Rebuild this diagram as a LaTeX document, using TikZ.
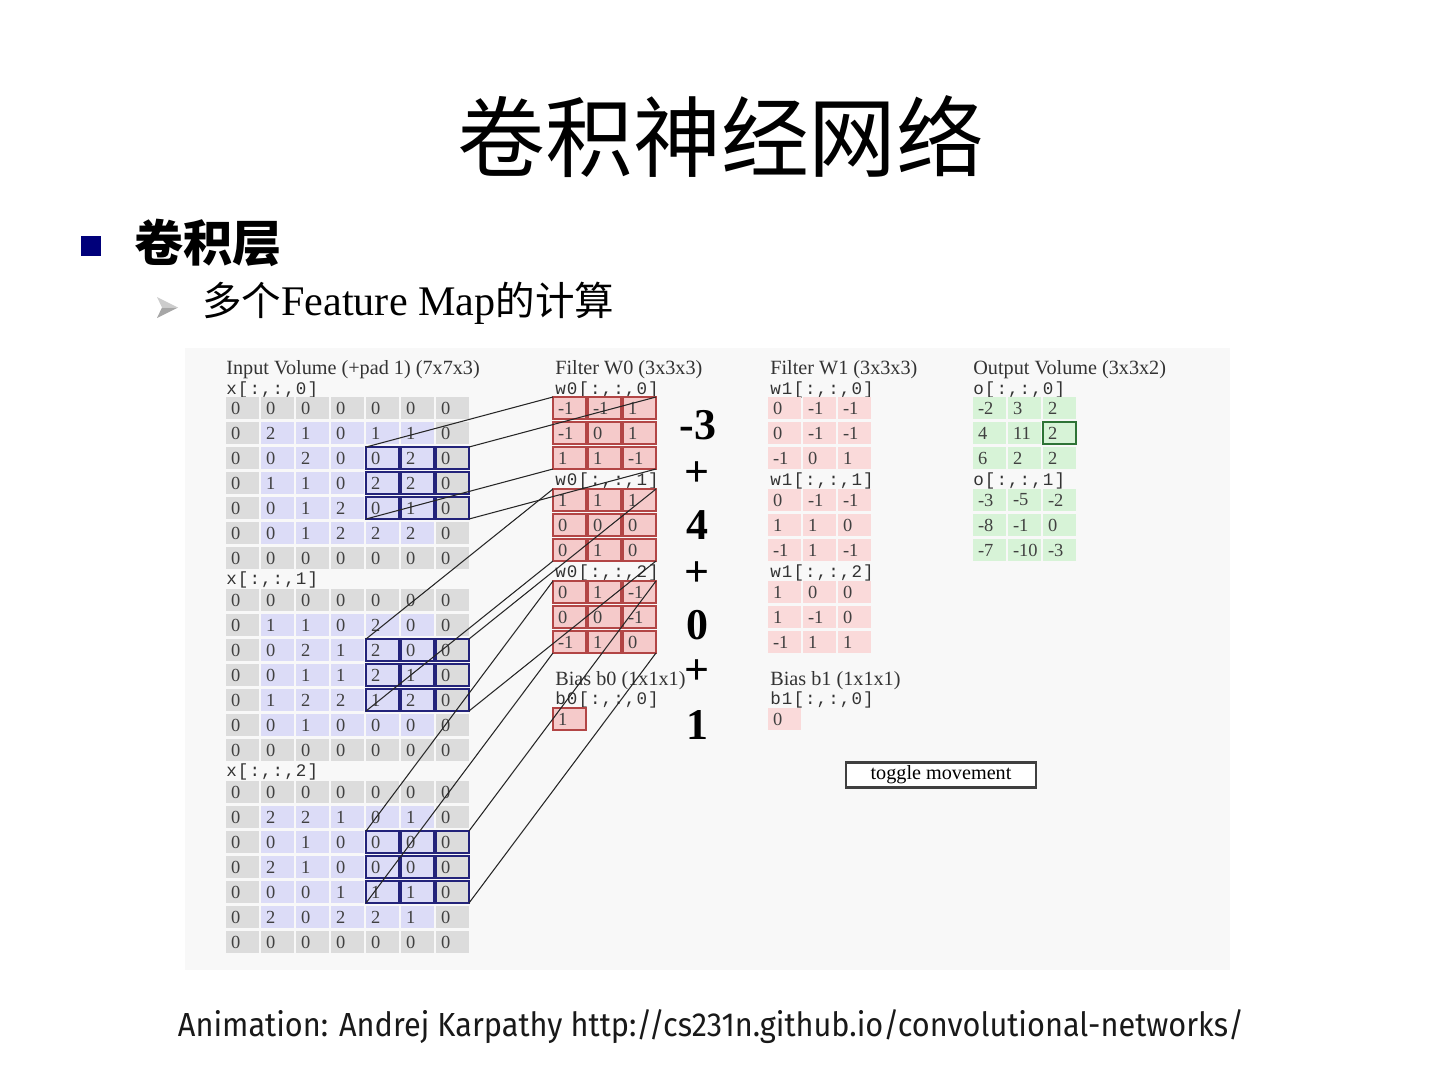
\documentclass[tikz,border=0pt]{standalone}
\usepackage{fontspec}
\setmainfont{Liberation Serif}
\setmonofont{Liberation Mono}
\newfontfamily\idxfont{Liberation Mono}[LetterSpace=6]
\newfontfamily\cjk{Noto Sans CJK SC}
\newfontfamily\creditfont{Fira Sans}[FakeStretch=0.92]
\usetikzlibrary{positioning}
\definecolor{panelgray}{HTML}{F8F8F8}
\definecolor{padgray}{HTML}{DCDCDC}
\definecolor{inblue}{HTML}{DCDCF7}
\definecolor{winblue}{HTML}{23237A}
\definecolor{fapink}{HTML}{F5CACA}
\definecolor{fared}{HTML}{B24545}
\definecolor{fbpink}{HTML}{FADADA}
\definecolor{outgreen}{HTML}{D7F3D7}
\definecolor{hlgreen}{HTML}{2E7336}
\definecolor{celltext}{HTML}{404040}
\definecolor{headtext}{HTML}{333333}
\definecolor{bulletblue}{HTML}{00007A}

% a block of cells, rows given as {a,b,c},{...}
\newcommand{\cellgrid}[5]{% name, left, top, style, rows
  \foreach \vals [count=\ri from 0] in {#5} {
    \foreach \v [count=\ci from 0] in \vals {
      \node[cell, #4] (#1-\ri-\ci) at ({#2+35*\ci},{#3+25*\ri}) {\mbox{\v}};
    }
  }
}
% padded input slice, window at rows 2-4, cols 4-6
\newcommand{\inputgrid}[3]{% name, top, rows
  \foreach \vals [count=\ri from 0] in {#3} {
    \foreach \v [count=\ci from 0] in \vals {
      \pgfmathtruncatemacro\inside{(\ri>0)*(\ri<6)*(\ci>0)*(\ci<6)}
      \pgfmathtruncatemacro\inwin{(\ri>1)*(\ri<5)*(\ci>3)}
      \ifnum\inside=1 \def\cellfill{inblue}\else\def\cellfill{padgray}\fi
      \ifnum\inwin=1 \def\celldraw{winblue}\else\def\celldraw{none}\fi
      \node[cell, fill=\cellfill, draw=\celldraw, line width=1.1pt] (#1-\ri-\ci) at ({226+35*\ci},{#2+25*\ri}) {\v};
    }
  }
}

\begin{document}
\begin{tikzpicture}[x=0.02cm, y=-0.02cm,
    cell/.style={anchor=north west, outer sep=0pt, inner ysep=0pt, inner xsep=0.1cm,
                 minimum height=0.44cm, text width=0.46cm, align=left,
                 font=\fontsize{10.5}{11}\selectfont, text=celltext},
    fa/.style={fill=fapink, draw=fared, line width=1.1pt},
    fb/.style={fill=fbpink},
    outcell/.style={fill=outgreen},
    head/.style={anchor=west, inner sep=0pt, font=\fontsize{11.5}{13}\selectfont, text=headtext},
    idx/.style={anchor=west, inner sep=0pt, font=\idxfont\fontsize{10}{11}\selectfont, text=headtext},
    sumtext/.style={font=\bfseries\fontsize{25}{28}\selectfont},
    link/.style={line width=0.6pt, black!85},
  ]
  \useasboundingbox (0,0) rectangle (1440,1080);
  \fill[panelgray] (185,348) rectangle (1230,970);

  % slide text
  \node[font=\cjk\fontsize{50}{56}\selectfont] (title) at (721,137) {卷积神经网络};
  \node[fill=bulletblue, minimum size=0.4cm, inner sep=0pt] (bullet) at (91,246) {};
  \node[anchor=west, font=\cjk\bfseries\fontsize{28}{32}\selectfont] (layer) at (128,243) {卷积层};
  \fill[gray!40] (157,297) -- (178,307.5) -- (162,307.5) -- cycle;
  \fill[gray!70] (162,307.5) -- (178,307.5) -- (157,318) -- cycle;
  \node[anchor=west, font=\fontsize{24}{28}\selectfont] (sub) at (196,303)
    {{\cjk\fontsize{22.5}{28}\selectfont 多个}Feature Map{\cjk\fontsize{22.5}{28}\selectfont 的计算}};

  % input volume
  \node[head] (inhead) at (226,370) {Input Volume (+pad 1) (7x7x3)};
  \node[idx] (x0lab) at (226,389.5) {x[:,:,0]};
  \inputgrid{in0}{397}{{0,0,0,0,0,0,0},{0,2,1,0,1,1,0},{0,0,2,0,0,2,0},{0,1,1,0,2,2,0},{0,0,1,2,0,1,0},{0,0,1,2,2,2,0},{0,0,0,0,0,0,0}}
  \node[idx] (x1lab) at (226,580) {x[:,:,1]};
  \inputgrid{in1}{589}{{0,0,0,0,0,0,0},{0,1,1,0,2,0,0},{0,0,2,1,2,0,0},{0,0,1,1,2,1,0},{0,1,2,2,1,2,0},{0,0,1,0,0,0,0},{0,0,0,0,0,0,0}}
  \node[idx] (x2lab) at (226,772) {x[:,:,2]};
  \inputgrid{in2}{781}{{0,0,0,0,0,0,0},{0,2,2,1,0,1,0},{0,0,1,0,0,0,0},{0,2,1,0,0,0,0},{0,0,0,1,1,1,0},{0,2,0,2,2,1,0},{0,0,0,0,0,0,0}}

  % filter w0
  \node[head] (fahead) at (555,370) {Filter W0 (3x3x3)};
  \node[idx] (fa0lab) at (555,389.5) {w0[:,:,0]};
  \cellgrid{fa0}{553}{397}{fa}{{-1,-1,1},{-1,0,1},{1,1,-1}}
  \node[idx] (fa1lab) at (555,481) {w0[:,:,1]};
  \cellgrid{fa1}{553}{489}{fa}{{1,1,1},{0,0,0},{0,1,0}}
  \node[idx] (fa2lab) at (555,573) {w0[:,:,2]};
  \cellgrid{fa2}{553}{581}{fa}{{0,1,-1},{0,0,-1},{-1,1,0}}
  \node[head] (bahead) at (555,681) {Bias b0 (1x1x1)};
  \node[idx] (balab) at (555,700) {b0[:,:,0]};
  \node[cell, fa] (ba) at (553,708) {1};

  % filter w1
  \node[head] (fbhead) at (770,370) {Filter W1 (3x3x3)};
  \node[idx] (fb0lab) at (770,389.5) {w1[:,:,0]};
  \cellgrid{fb0}{768}{397}{fb}{{0,-1,-1},{0,-1,-1},{-1,0,1}}
  \node[idx] (fb1lab) at (770,481) {w1[:,:,1]};
  \cellgrid{fb1}{768}{489}{fb}{{0,-1,-1},{1,1,0},{-1,1,-1}}
  \node[idx] (fb2lab) at (770,573) {w1[:,:,2]};
  \cellgrid{fb2}{768}{581}{fb}{{1,0,0},{1,-1,0},{-1,1,1}}
  \node[head] (bbhead) at (770,681) {Bias b1 (1x1x1)};
  \node[idx] (bblab) at (770,700) {b1[:,:,0]};
  \node[cell, fb] (bb) at (768,708) {0};

  % output volume
  \node[head] (outhead) at (973,370) {Output Volume (3x3x2)};
  \node[idx] (o0lab) at (973,389.5) {o[:,:,0]};
  \cellgrid{out0}{973}{397}{outcell}{{-2,3,2},{4,11,2},{6,2,2}}
  \node[idx] (o1lab) at (973,481) {o[:,:,1]};
  \cellgrid{out1}{973}{489}{outcell}{{-3,-5,-2},{-8,-1,0},{-7,-10,-3}}
  \draw[hlgreen, line width=1.2pt] (out0-1-2.north west) rectangle (out0-1-2.south east);

  \node[draw=black!75, line width=1.2pt, fill=white, minimum width=3.8cm, minimum height=0.5cm,
        inner sep=0pt, font=\fontsize{11.5}{13}\selectfont] (toggle) at (941,775) {toggle movement};

  % receptive field to filter
  \foreach \k in {0,1,2} {
    \draw[link] (in\k-2-4.north west) -- (fa\k-0-0.north west);
    \draw[link] (in\k-2-6.north east) -- (fa\k-0-2.north east);
    \draw[link] (in\k-4-4.south west) -- (fa\k-2-0.south west);
    \draw[link] (in\k-4-6.south east) -- (fa\k-2-2.south east);
  }

  % the sum
  \node[sumtext] (s0) at (698,425) {-3};
  \node[sumtext] (p0) at (697,474) {+};
  \node[sumtext] (s1) at (697,525) {4};
  \node[sumtext] (p1) at (697,574) {+};
  \node[sumtext] (s2) at (697,625) {0};
  \node[sumtext] (p2) at (697,672) {+};
  \node[sumtext] (s3) at (697,725) {1};

  \node[font=\creditfont\fontsize{19}{22}\selectfont, text=black!90] (credit) at (711,1027)
    {Animation: Andrej Karpathy http://cs231n.github.io/convolutional-networks/};
\end{tikzpicture}
\end{document}
